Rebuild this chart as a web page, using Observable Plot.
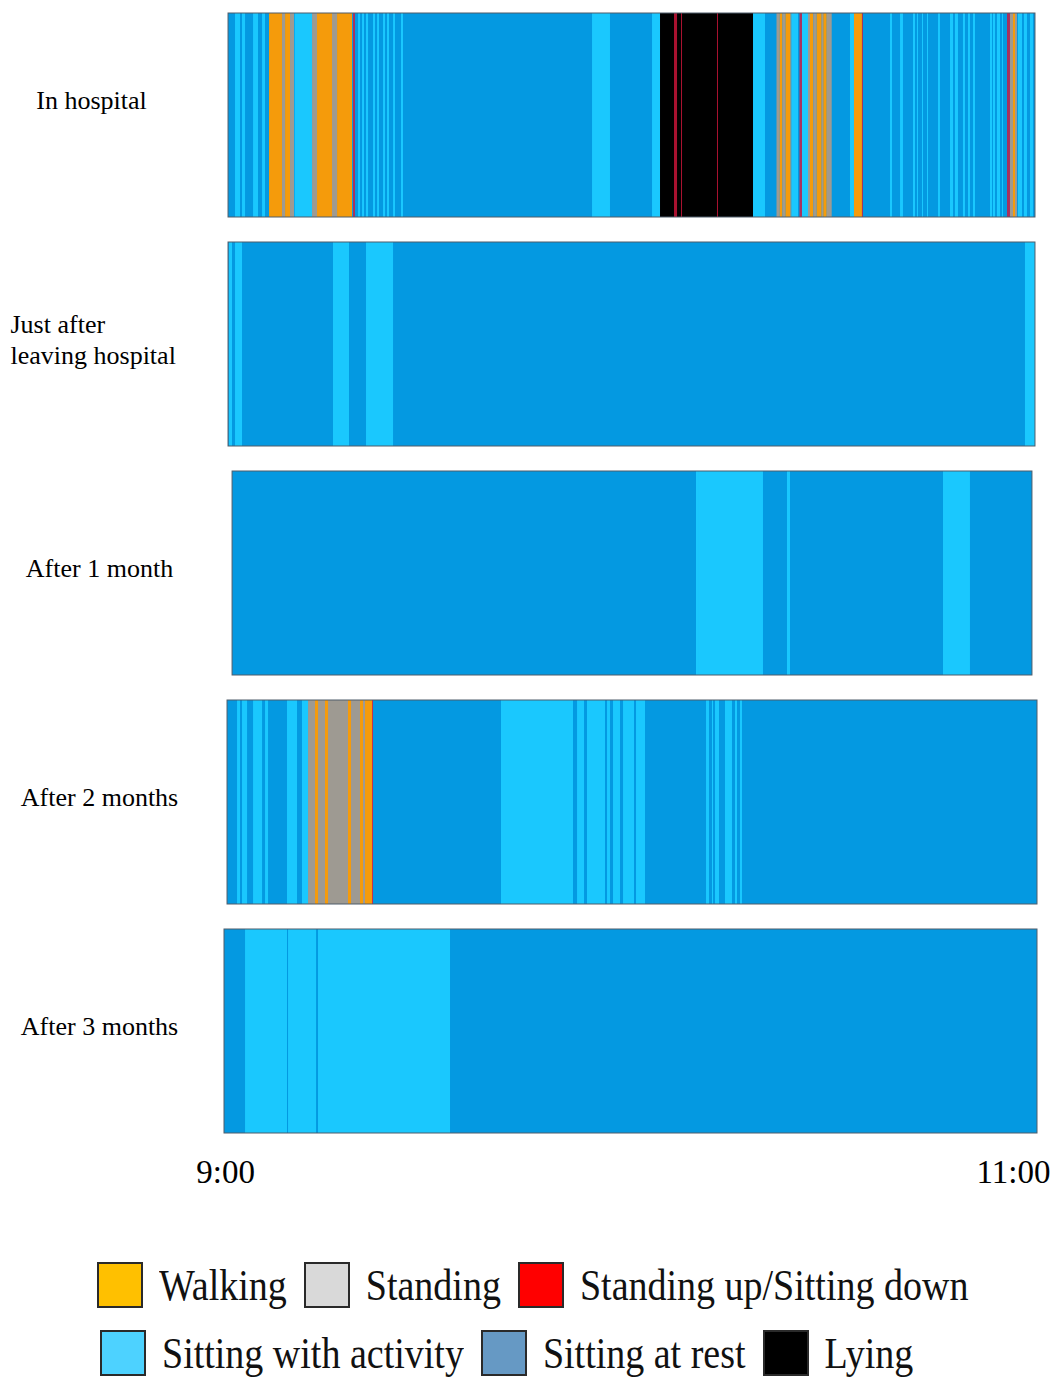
<!DOCTYPE html>
<html>
<head>
<meta charset="utf-8">
<script src="https://cdn.jsdelivr.net/npm/d3@7"></script>
<script src="https://cdn.jsdelivr.net/npm/@observablehq/plot@0.6"></script>
<style>
  body { margin: 0; background: #fff; width: 1059px; font-family: "Liberation Serif", "Times New Roman", serif; }
  #chart svg { display: block; }
  .legend { padding-left: 97px; margin-top: 62px; }
  .lrow { display: flex; align-items: center; height: 46px; margin-bottom: 22px; }
  .lrow.second { padding-left: 3px; }
  .sw { width: 46px; height: 46px; box-sizing: border-box; border: 2px solid #2a2a2a; margin-right: 16px; flex: none; }
  .lt { font-size: 38px; color: #111; display: inline-block; transform: scaleY(1.18); margin-right: 17px; white-space: nowrap; line-height: 46px; }
</style>
</head>
<body>
<div id="chart"></div>
<div class="legend" id="legend"></div>
<script>
// ---- data (minutes after 9:00) ----
const rows = ["In hospital", "Just after\nleaving hospital", "After 1 month", "After 2 months", "After 3 months"];
const recStart = [0, 0, 0.6, -0.15, -0.6];
const recEnd = [120, 120, 119.55, 120.3, 120.3];

const states = ["Walking", "Standing", "Standing up/Sitting down", "Sitting with activity", "Sitting at rest", "Lying"];
const barColors = ["#F59B0B", "#9E9A92", "#D3163C", "#1AC8FE", "#0499E1", "#000000"];
const legendColors = ["#FFC000", "#D9D9D9", "#FF0000", "#4DD2FF", "#6699C4", "#000000"];

// [start, end, state]
const hospital = [
  [1.04, 1.78, "Sitting with activity"], [2.08, 2.53, "Sitting with activity"],
  [3.72, 4.46, "Sitting with activity"], [5.06, 5.50, "Sitting with activity"],
  [6.10, 8.03, "Walking"], [8.03, 8.48, "Standing"], [8.48, 9.22, "Walking"], [9.22, 9.81, "Standing"],
  [9.90, 12.49, "Sitting with activity"], [12.49, 13.23, "Standing"], [13.23, 15.46, "Walking"],
  [15.46, 16.21, "Standing"], [16.21, 18.44, "Walking"], [18.59, 18.88, "Standing up/Sitting down"],
  [19.33, 19.63, "Sitting with activity"], [19.93, 20.22, "Sitting with activity"],
  [20.52, 20.82, "Sitting with activity"], [21.56, 21.86, "Sitting with activity"],
  [22.16, 22.45, "Sitting with activity"], [23.05, 23.35, "Sitting with activity"],
  [23.64, 23.94, "Sitting with activity"], [24.54, 24.83, "Sitting with activity"],
  [25.72, 26.02, "Sitting with activity"],
  [54.13, 56.80, "Sitting with activity"],
  [63.05, 64.24, "Sitting with activity"],
  [64.24, 78.07, "Lying"],
  [66.32, 66.77, "Standing up/Sitting down"], [67.36, 67.51, "Standing up/Sitting down"],
  [72.71, 72.86, "Standing up/Sitting down"],
  [78.07, 79.85, "Sitting with activity"],
  [81.56, 82.05, "Standing"], [82.05, 82.45, "Walking"], [82.45, 82.90, "Standing"],
  [82.90, 83.64, "Walking"], [83.64, 83.79, "Standing"],
  [83.79, 84.76, "Sitting with activity"], [84.98, 85.35, "Standing up/Sitting down"],
  [85.35, 86.25, "Sitting with activity"],
  [86.25, 86.54, "Standing"], [86.54, 87.03, "Walking"], [87.03, 87.54, "Standing"],
  [87.54, 88.28, "Walking"], [88.28, 88.52, "Standing"], [88.52, 89.03, "Walking"],
  [89.03, 89.77, "Standing"],
  [92.49, 93.08, "Sitting with activity"], [93.08, 94.27, "Walking"],
  [94.27, 94.42, "Standing up/Sitting down"],
  [98.44, 98.74, "Sitting with activity"], [99.93, 100.37, "Sitting with activity"],
  [101.86, 102.16, "Sitting with activity"], [102.45, 102.60, "Sitting with activity"],
  [103.20, 103.35, "Sitting with activity"], [103.94, 104.09, "Sitting with activity"],
  [105.58, 105.87, "Sitting with activity"], [107.36, 107.81, "Sitting with activity"],
  [108.10, 108.55, "Sitting with activity"], [109.29, 109.59, "Sitting with activity"],
  [110.04, 110.33, "Sitting with activity"], [110.78, 111.08, "Sitting with activity"],
  [113.31, 113.61, "Sitting with activity"], [113.75, 114.05, "Sitting with activity"],
  [114.35, 114.80, "Sitting with activity"], [115.09, 115.24, "Sitting with activity"],
  [115.84, 116.28, "Standing up/Sitting down"],
  [116.28, 116.73, "Standing"], [116.73, 117.03, "Walking"], [117.03, 117.32, "Standing"],
  [117.47, 118.07, "Sitting with activity"], [118.36, 118.81, "Sitting with activity"],
  [119.26, 119.70, "Sitting with activity"]
];
const justAfter = [
  [0.15, 0.59, "Sitting with activity"], [1.04, 2.08, "Sitting with activity"],
  [15.61, 17.99, "Sitting with activity"], [20.52, 24.54, "Sitting with activity"],
  [118.51, 120, "Sitting with activity"]
];
const month1 = [
  [69.59, 69.89, "Sitting with activity"], [69.89, 79.55, "Sitting with activity"],
  [83.12, 83.57, "Sitting with activity"], [106.32, 110.33, "Sitting with activity"]
];
const month2 = [
  [1.34, 1.78, "Sitting with activity"], [2.08, 2.83, "Sitting with activity"],
  [3.72, 5.06, "Sitting with activity"], [5.50, 5.95, "Sitting with activity"],
  [8.77, 10.26, "Sitting with activity"], [11.00, 11.90, "Sitting with activity"],
  [11.90, 21.56, "Standing"],
  [12.94, 13.38, "Walking"], [14.42, 14.87, "Walking"], [17.84, 18.29, "Walking"],
  [19.63, 20.07, "Walking"], [20.37, 21.41, "Walking"],
  [21.41, 21.56, "Standing up/Sitting down"],
  [40.59, 51.30, "Sitting with activity"], [51.90, 52.94, "Sitting with activity"],
  [53.38, 56.06, "Sitting with activity"], [56.36, 56.80, "Sitting with activity"],
  [57.25, 58.29, "Sitting with activity"], [58.74, 60.37, "Sitting with activity"],
  [60.67, 62.01, "Sitting with activity"],
  [71.08, 71.52, "Sitting with activity"], [71.97, 72.12, "Sitting with activity"],
  [72.42, 73.01, "Sitting with activity"], [73.90, 74.94, "Sitting with activity"],
  [75.39, 75.69, "Sitting with activity"], [76.13, 76.43, "Sitting with activity"]
];
const month3 = [
  [2.53, 8.77, "Sitting with activity"], [8.92, 13.09, "Sitting with activity"],
  [13.38, 33.01, "Sitting with activity"]
];
const tickLabels = [{t: 0, label: "9:00"}, {t: 120, label: "11:00"}];

// ---- build tables ----
const rowSegments = [hospital, justAfter, month1, month2, month3];
const recordings = rows.map((r, i) => ({row: r, start: recStart[i], end: recEnd[i]}));
const segs = rowSegments.flatMap((list, i) => list.map(([s, e, st]) => ({row: rows[i], start: s, end: e, state: st})));

const chart = Plot.plot({
  width: 1059,
  height: 1200,
  marginTop: 12,
  marginBottom: 66,
  marginLeft: 224,
  marginRight: 22,
  style: {fontFamily: "'Liberation Serif', 'Times New Roman', serif", background: "#fff"},
  x: {domain: [-0.6, 120.3], axis: null},
  y: {domain: rows, axis: null, paddingInner: 0.111, paddingOuter: 0},
  color: {domain: states, range: barColors},
  marks: [
    Plot.barX(recordings, {x1: "start", x2: "end", y: "row", fill: barColors[4]}),
    Plot.barX(segs.filter(d => d.state !== "Standing up/Sitting down"), {x1: "start", x2: "end", y: "row", fill: "state"}),
    Plot.barX(segs.filter(d => d.state === "Standing up/Sitting down"), {x1: "start", x2: "end", y: "row", fill: "state", fillOpacity: 0.8}),
    Plot.barX(recordings, {x1: "start", x2: "end", y: "row", fill: "none", stroke: "#4f5d6b", strokeWidth: 1}),
    Plot.text(rows.slice(0, 1), {
      y: d => d, frameAnchor: "left", dx: -133, dy: -15, textAnchor: "middle",
      fontSize: 26, fill: "#000"
    }),
    Plot.text(rows.slice(2), {
      y: d => d, frameAnchor: "left", dx: -125, dy: -5, textAnchor: "middle",
      fontSize: 26, fill: "#000"
    }),
    Plot.text(rows.slice(1, 2), {
      y: d => d, frameAnchor: "left", dx: -214, dy: -6, textAnchor: "start", lineHeight: 1.2,
      fontSize: 26, fill: "#000"
    }),
    Plot.text(tickLabels.slice(0, 1), {x: "t", text: "label", frameAnchor: "bottom", dy: 48, dx: -3, textAnchor: "middle", fontSize: 33, fill: "#000"}),
    Plot.text(tickLabels.slice(1), {x: "t", text: "label", frameAnchor: "bottom", dy: 48, dx: 15, textAnchor: "end", fontSize: 33, fill: "#000"})
  ]
});
document.getElementById("chart").appendChild(chart);

// ---- legend ----
const legend = document.getElementById("legend");
[[0, 1, 2], [3, 4, 5]].forEach((idx, k) => {
  const row = document.createElement("div");
  row.className = "lrow" + (k ? " second" : "");
  idx.forEach(i => {
    const sw = document.createElement("div");
    sw.className = "sw";
    sw.style.background = legendColors[i];
    const t = document.createElement("span");
    t.className = "lt";
    t.textContent = states[i];
    row.appendChild(sw);
    row.appendChild(t);
  });
  legend.appendChild(row);
});
</script>
</body>
</html>
